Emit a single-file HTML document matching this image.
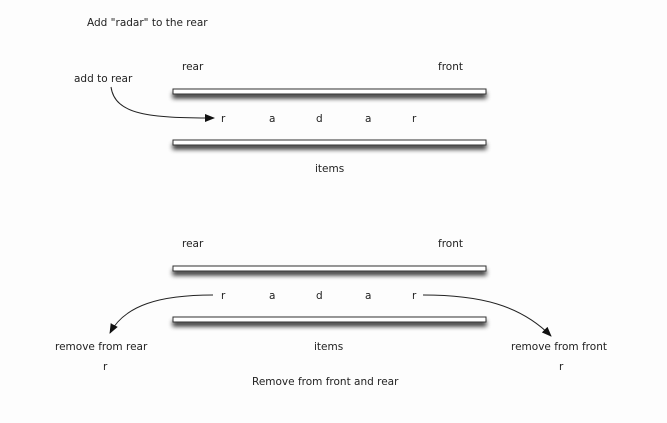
<!DOCTYPE html>
<html><head><style>
html,body{margin:0;padding:0;background:#fff;}
svg{display:block;}
text{font-family:"DejaVu Sans","Liberation Sans",sans-serif;font-size:10.5px;fill:#222;}
</style></head><body>
<svg width="667" height="423" viewBox="0 0 667 423" xmlns="http://www.w3.org/2000/svg">
<defs>
<filter id="sh" x="-5%" y="-200%" width="110%" height="700%">
<feGaussianBlur in="SourceAlpha" stdDeviation="2.5"/>
<feOffset dx="0" dy="4" result="b"/>
<feComponentTransfer><feFuncA type="linear" slope="0.8"/></feComponentTransfer>
<feMerge><feMergeNode/><feMergeNode in="SourceGraphic"/></feMerge>
</filter>
<marker id="ah" markerWidth="10" markerHeight="8" refX="9" refY="4" orient="auto" markerUnits="userSpaceOnUse">
<path d="M0,0 L10,4 L0,8 z" fill="#111"/>
</marker>
</defs>
<rect width="667" height="423" fill="#fdfdfd"/>
<text x="87" y="26">Add "radar" to the rear</text>

<text x="182" y="70">rear</text>
<text x="438" y="70">front</text>
<text x="74" y="82">add to rear</text>
<rect x="173" y="89" width="313" height="5" fill="#fff" stroke="#333" stroke-width="1" filter="url(#sh)"/>
<rect x="173" y="140" width="313" height="5" fill="#fff" stroke="#333" stroke-width="1" filter="url(#sh)"/>
<g>
<text x="221" y="122">r</text><text x="269" y="122">a</text><text x="316" y="122">d</text><text x="365" y="122">a</text><text x="412" y="122">r</text>
</g>
<text x="315" y="172">items</text>
<path d="M111,87 C115,115 150,118 214,118" fill="none" stroke="#222" stroke-width="1" marker-end="url(#ah)"/>

<text x="182" y="247">rear</text>
<text x="438" y="247">front</text>
<rect x="173" y="266" width="313" height="5" fill="#fff" stroke="#333" stroke-width="1" filter="url(#sh)"/>
<rect x="173" y="317" width="313" height="5" fill="#fff" stroke="#333" stroke-width="1" filter="url(#sh)"/>
<g>
<text x="221" y="299">r</text><text x="269" y="299">a</text><text x="316" y="299">d</text><text x="365" y="299">a</text><text x="412" y="299">r</text>
</g>
<path d="M213,295 C160,295 125,305 110,333" fill="none" stroke="#222" stroke-width="1" marker-end="url(#ah)"/>
<path d="M423,295 C480,295 520,305 551,336" fill="none" stroke="#222" stroke-width="1" marker-end="url(#ah)"/>
<text x="55" y="350">remove from rear</text>
<text x="314" y="350">items</text>
<text x="511" y="350">remove from front</text>
<text x="103" y="370">r</text>
<text x="559" y="370">r</text>
<text x="252" y="385">Remove from front and rear</text>
</svg>
</body></html>
